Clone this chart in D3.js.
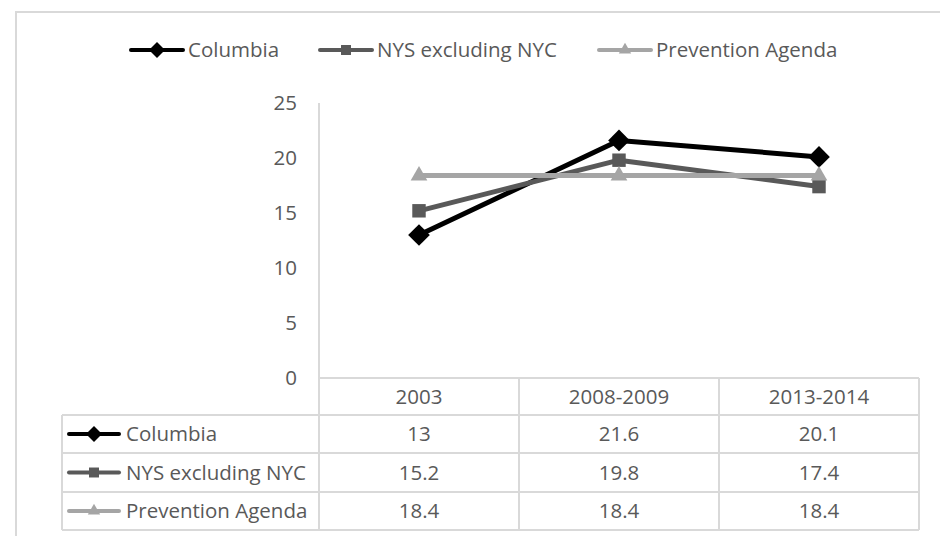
<!DOCTYPE html>
<html>
<head>
<meta charset="utf-8">
<script src="https://cdn.jsdelivr.net/npm/d3@7"></script>
<style>
  body { margin: 0; background: #fff; }
  text { font-family: "Open Sans", sans-serif; fill: #595959; }
</style>
</head>
<body>
<svg id="chart" width="940" height="536"></svg>
<script>
// data
var categories = ["2003", "2008-2009", "2013-2014"];
var seriesNames = ["Columbia", "NYS excluding NYC", "Prevention Agenda"];
var columbia = [13, 21.6, 20.1];
var nysExNyc = [15.2, 19.8, 17.4];
var preventionAgenda = [18.4, 18.4, 18.4];
var yTicks = [0, 5, 10, 15, 20, 25];

var seriesValues = [columbia, nysExNyc, preventionAgenda];
var colors = ["#000000", "#595959", "#a5a5a5"];
var shapes = [d3.symbolDiamond2, d3.symbolSquare2, d3.symbolTriangle2];
var shapeSize = [300, 230, 200];

var svg = d3.select("#chart");
var fs = 20.5;
var gridColor = "#d9d9d9";

// outer frame
svg.append("rect")
    .attr("x", 16).attr("y", 12)
    .attr("width", 940).attr("height", 540)
    .attr("fill", "none")
    .attr("stroke", gridColor)
    .attr("stroke-width", 2);

var x = d3.scaleBand().domain(categories).range([319, 919]);
var y = d3.scaleLinear().domain([0, 25]).range([378, 103]);

// y axis labels
svg.append("g").selectAll("text")
    .data(yTicks)
    .enter().append("text")
    .attr("x", 297)
    .attr("y", function(d) { return y(d); })
    .attr("dy", "0.35em")
    .attr("text-anchor", "end")
    .attr("font-size", fs)
    .text(function(d) { return d; });

// table geometry
var rowTops = [378, 415, 453, 492, 530];
var tableLeft = 62;

var grid = svg.append("g")
    .attr("stroke", gridColor)
    .attr("stroke-width", 2);

// vertical axis line runs into the table
grid.append("line")
    .attr("x1", x.range()[0]).attr("x2", x.range()[0])
    .attr("y1", y(25)).attr("y2", rowTops[4]);

// horizontal lines
rowTops.forEach(function(r, i) {
    grid.append("line")
        .attr("x1", i === 0 ? x.range()[0] : tableLeft)
        .attr("x2", x.range()[1])
        .attr("y1", r).attr("y2", r);
});
// column lines
categories.forEach(function(c) {
    grid.append("line")
        .attr("x1", x(c) + x.bandwidth()).attr("x2", x(c) + x.bandwidth())
        .attr("y1", rowTops[0]).attr("y2", rowTops[4]);
});
grid.append("line")
    .attr("x1", tableLeft).attr("x2", tableLeft)
    .attr("y1", rowTops[1]).attr("y2", rowTops[4]);

// header row
svg.append("g").selectAll("text")
    .data(categories)
    .enter().append("text")
    .attr("x", function(d) { return x(d) + x.bandwidth() / 2; })
    .attr("y", (rowTops[0] + rowTops[1]) / 2)
    .attr("dy", "0.35em")
    .attr("text-anchor", "middle")
    .attr("font-size", fs)
    .text(function(d) { return d; });

function drawKey(g, i, x0, x1, cy) {
    g.append("line")
        .attr("x1", x0).attr("x2", x1)
        .attr("y1", cy).attr("y2", cy)
        .attr("stroke", colors[i])
        .attr("stroke-width", 4)
        .attr("stroke-linecap", "round");
    g.append("path")
        .attr("d", d3.symbol().type(shapes[i]).size(shapeSize[i] * 0.55)())
        .attr("transform", "translate(" + ((x0 + x1) / 2) + "," + cy + ")")
        .attr("fill", colors[i]);
}

// table rows
seriesNames.forEach(function(name, i) {
    var cy = (rowTops[i + 1] + rowTops[i + 2]) / 2;
    var g = svg.append("g");
    drawKey(g, i, 69, 119, cy);
    g.append("text")
        .attr("x", 126).attr("y", cy)
        .attr("dy", "0.35em")
        .attr("font-size", fs)
        .text(name);
    g.selectAll(".val")
        .data(seriesValues[i])
        .enter().append("text")
        .attr("class", "val")
        .attr("x", function(d, j) { return x(categories[j]) + x.bandwidth() / 2; })
        .attr("y", cy)
        .attr("dy", "0.35em")
        .attr("text-anchor", "middle")
        .attr("font-size", fs)
        .text(function(d) { return d; });
});

// series lines and markers
var line = d3.line()
    .x(function(d, j) { return x(categories[j]) + x.bandwidth() / 2; })
    .y(function(d) { return y(d); });

seriesValues.forEach(function(vals, i) {
    var g = svg.append("g");
    g.append("path")
        .datum(vals)
        .attr("d", line)
        .attr("fill", "none")
        .attr("stroke", colors[i])
        .attr("stroke-width", 5)
        .attr("stroke-linejoin", "round");
    g.selectAll(".mk")
        .data(vals)
        .enter().append("path")
        .attr("class", "mk")
        .attr("d", d3.symbol().type(shapes[i]).size(shapeSize[i]))
        .attr("transform", function(d, j) {
            return "translate(" + (x(categories[j]) + x.bandwidth() / 2) + "," + y(d) + ")";
        })
        .attr("fill", colors[i]);
});

// legend
var legendItems = [
    {x0: 131, x1: 183},
    {x0: 320, x1: 372},
    {x0: 599, x1: 651}
];
seriesNames.forEach(function(name, i) {
    var g = svg.append("g");
    drawKey(g, i, legendItems[i].x0, legendItems[i].x1, 50);
    g.append("text")
        .attr("x", legendItems[i].x1 + 5).attr("y", 50)
        .attr("dy", "0.35em")
        .attr("font-size", fs)
        .text(name);
});
</script>
</body>
</html>
